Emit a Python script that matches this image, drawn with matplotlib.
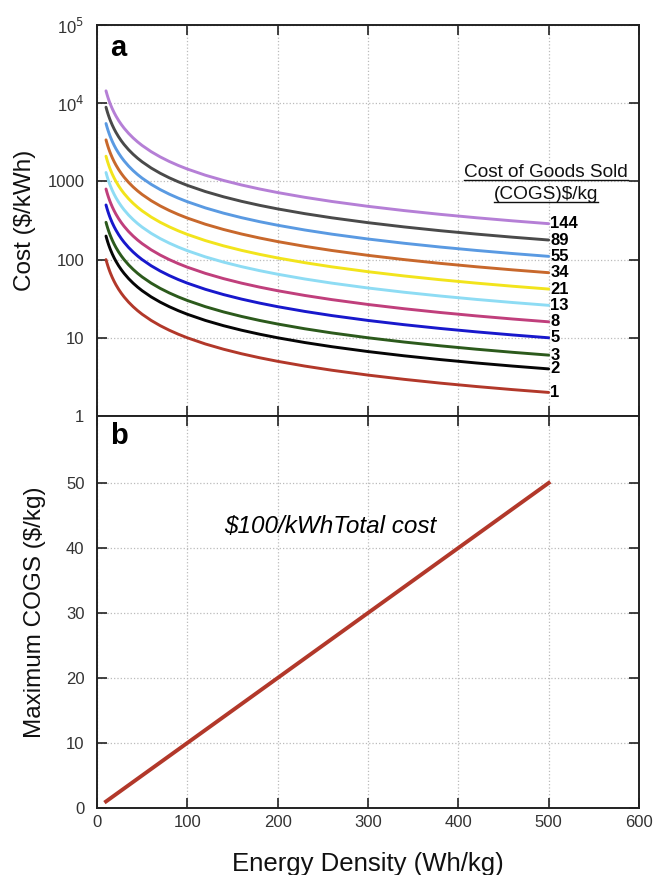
import matplotlib
matplotlib.use('Agg')
import matplotlib.pyplot as plt
from matplotlib.lines import Line2D
import numpy as np

plt.rcParams['font.family'] = ['Liberation Sans', 'DejaVu Sans']

# Data
cogs_levels = [144, 89, 55, 34, 21, 13, 8, 5, 3, 2, 1]  # $/kg
cogs_colors = ['#b57fd6', '#4a4a4a', '#5a9ae2', '#c8682c', '#f2e41c', '#8edcf4',
               '#c03f7c', '#1818cc', '#2c5a1c', '#050505', '#b2382a']
energy_density = [10, 11, 12, 13, 14, 15, 17, 19, 21, 24, 27, 30, 35, 40, 45, 50, 60, 70,
                  80, 90, 100, 120, 140, 160, 180, 200, 230, 260, 300, 340, 380, 420, 460, 500]  # Wh/kg

# panel b: max COGS for a $100/kWh total cost
ed_b = [10, 100, 200, 300, 400, 500]
max_cogs = [1, 10, 20, 30, 40, 50]

TEXT = '#333333'

fig = plt.figure(figsize=(6.53, 8.75), dpi=100)
ax1 = fig.add_axes([0.1485, 0.5246, 0.8301, 0.4468])
ax2 = fig.add_axes([0.1485, 0.0766, 0.8301, 0.4480])

ed = np.array(energy_density, dtype=float)
for c, col in zip(cogs_levels, cogs_colors):
    cost = c / (ed / 1000.0)  # $/kg -> $/kWh
    ax1.plot(ed, cost, color=col, lw=2.1, solid_capstyle='round')
    ax1.text(502, cost[-1], str(c), fontsize=12, fontweight='bold', color='black',
             va='center', ha='left')

ax1.set_yscale('log')
ax1.set_ylim(1, 1e5)
ax1.set_xlim(0, 600)
ax1.set_yticks([1, 10, 100, 1000, 1e4, 1e5])
ax1.set_yticklabels(['1', '10', '100', '1000', r'10$^4$', r'10$^5$'])
ax1.minorticks_off()
ax1.set_xticks([0, 100, 200, 300, 400, 500, 600])
ax1.tick_params(labelbottom=False)
ax1.set_ylabel('Cost ($/kWh)', fontsize=17.5, color='#111111', labelpad=8)
ax1.text(0.024, 0.978, 'a', transform=ax1.transAxes, fontsize=21, fontweight='bold',
         va='top', ha='left')

t1 = ax1.text(497, 1290, 'Cost of Goods Sold', fontsize=13.7, ha='center', va='center', color='#111111')
t2 = ax1.text(497, 676, '(COGS)$/kg', fontsize=13.7, ha='center', va='center', color='#111111')

ax2.plot(ed_b, max_cogs, color='#b2382a', lw=2.8)
ax2.set_xlim(0, 600)
ax2.set_ylim(0, 60.3)
ax2.set_xticks([0, 100, 200, 300, 400, 500, 600])
ax2.set_yticks([0, 10, 20, 30, 40, 50])
ax2.set_xlabel('Energy Density (Wh/kg)', fontsize=18.5, color='#111111', labelpad=16)
ax2.set_ylabel('Maximum COGS ($/kg)', fontsize=17.5, color='#111111', labelpad=14)
ax2.text(0.024, 0.985, 'b', transform=ax2.transAxes, fontsize=21, fontweight='bold',
         va='top', ha='left')
ax2.text(258, 43.3, '$100/kWhTotal cost', fontsize=17.5, style='italic', ha='center', va='center')

for ax in (ax1, ax2):
    ax.grid(True, which='major', color='#bbbbbb', linestyle=':', lw=0.9)
    ax.tick_params(direction='in', length=7, width=1.2, top=True, right=True,
                   labelsize=12, labelcolor=TEXT, color='#222222')
    ax.tick_params(axis='y', pad=9)
    ax.tick_params(axis='x', pad=5)
    for s in ax.spines.values():
        s.set_linewidth(1.4)
        s.set_color('#222222')

# underline the COGS header
fig.canvas.draw()
r = fig.canvas.get_renderer()
for t in (t1, t2):
    bb = t.get_window_extent(renderer=r)
    x0, y0 = fig.transFigure.inverted().transform((bb.x0, bb.y0 + 1.5))
    x1, _ = fig.transFigure.inverted().transform((bb.x1, bb.y0 + 1.5))
    fig.add_artist(Line2D([x0, x1], [y0, y0], color='#111111', lw=1.0))

fig.savefig('out.png', dpi=100)
